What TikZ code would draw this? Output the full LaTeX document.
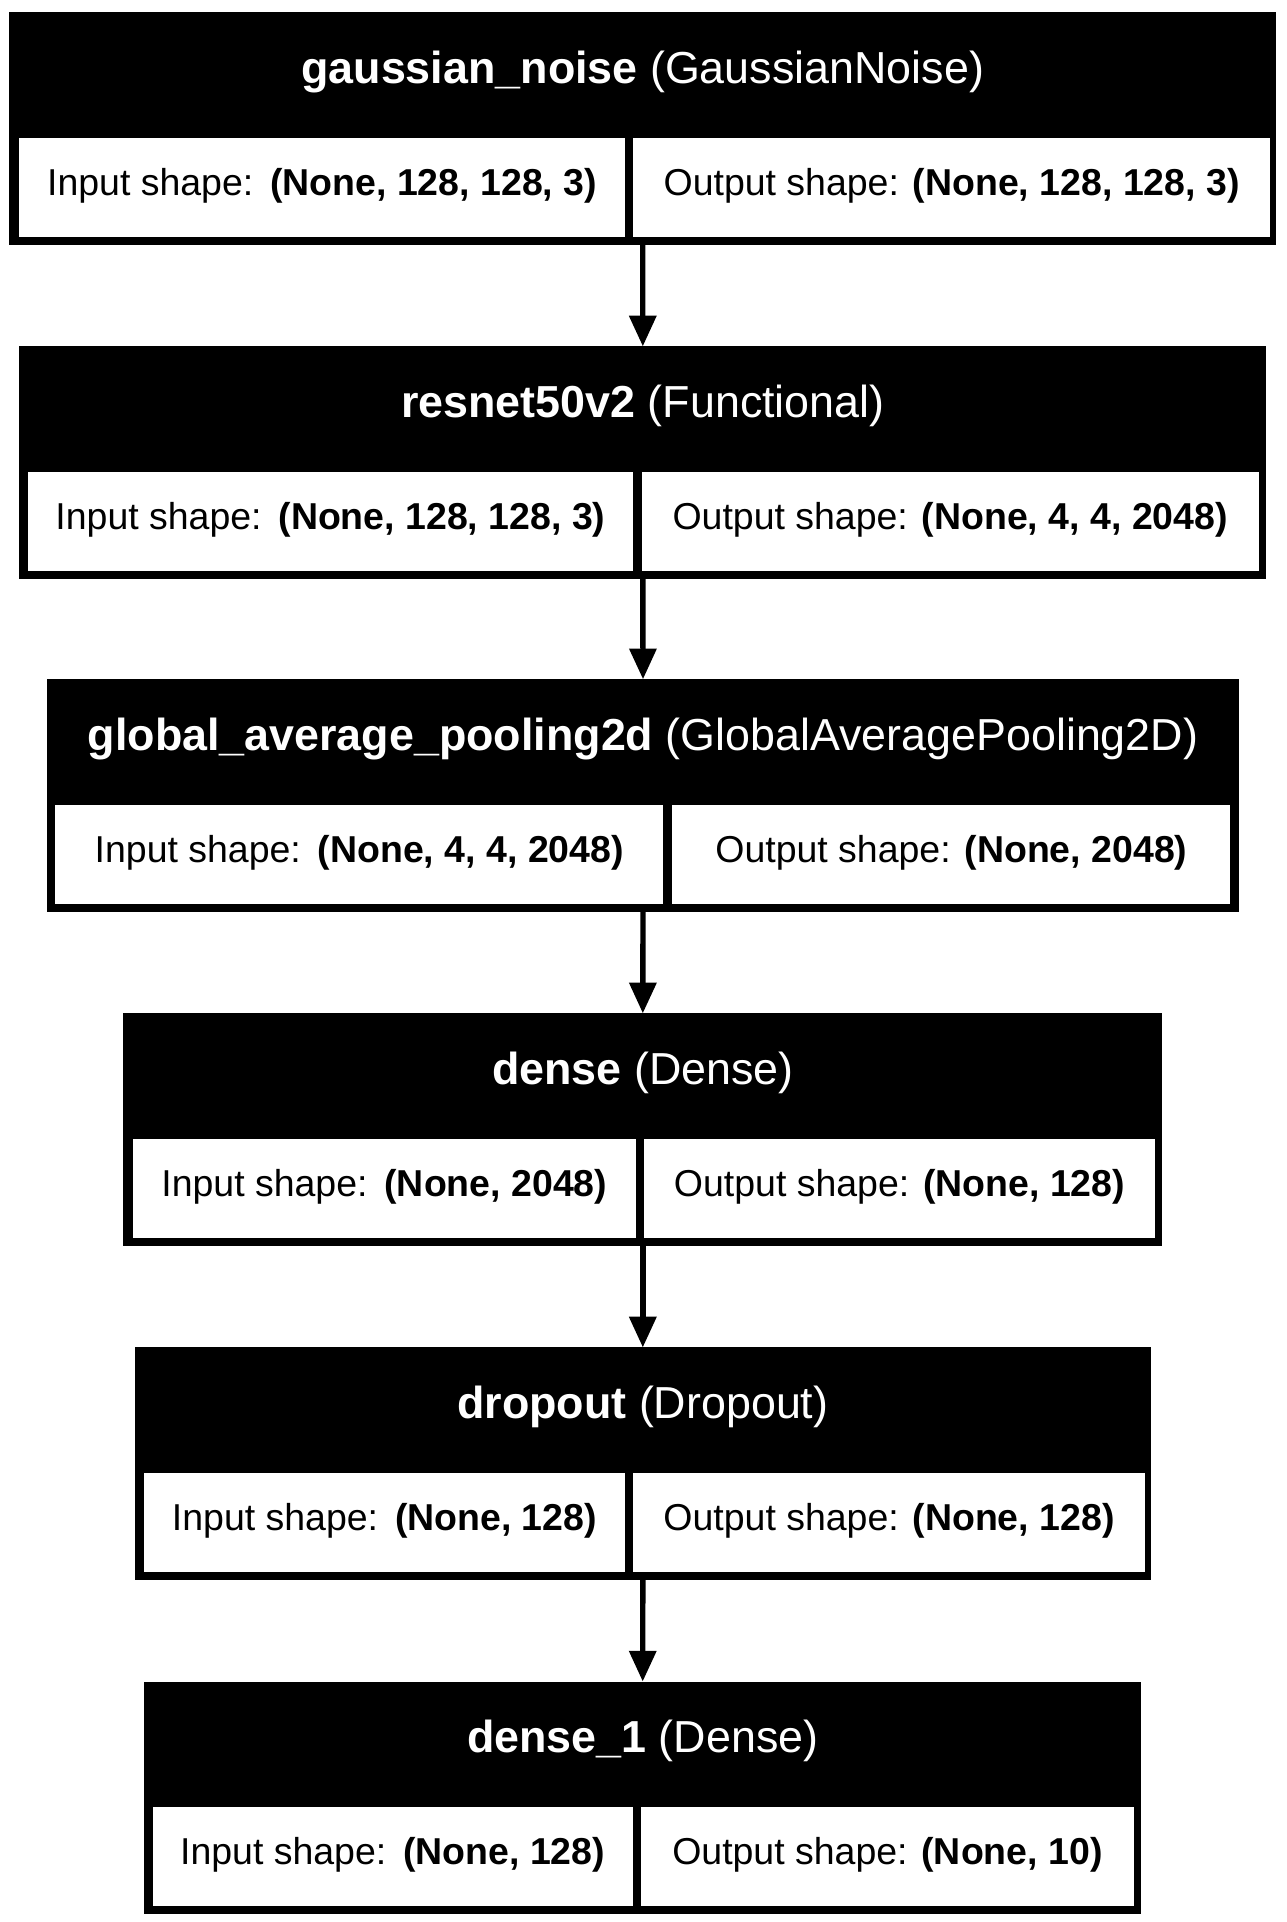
\documentclass[tikz,border=0pt]{standalone}
\usepackage{fontspec}
\setmainfont{Liberation Sans}
\usetikzlibrary{arrows.meta}
\tikzset{
  outerbox/.style={rectangle, fill=black, draw=none, inner sep=0pt, outer sep=0pt},
  cellbox/.style={rectangle, fill=white, draw=none, inner sep=0pt, outer sep=0pt},
  headtxt/.style={text=white, inner sep=0pt, anchor=base, font=\fontsize{36.5}{40}\selectfont},
  celltxt/.style={text=black, inner sep=0pt, anchor=base, font=\fontsize{30.5}{36}\selectfont},
  flow/.style={line width=4.4pt, -{Triangle[length=25pt, width=21.5pt]}},
}
% #1 id, #2 top, #3 left, #4 right, #5 cell left, #6 divider left, #7 divider right, #8 cell right, #9 header
\newcommand\LayerBox[9]{%
  \node[outerbox, minimum width={#4-#3}, minimum height=189.5] (box#1) at ({(#3+#4)/2},{#2+94.75}) {};
  \node[cellbox, minimum width={#6-#5}, minimum height=80.5] (inc#1) at ({(#5+#6)/2},{#2+142.5}) {};
  \node[cellbox, minimum width={#8-#7}, minimum height=80.5] (outc#1) at ({(#7+#8)/2},{#2+142.5}) {};
  \node[headtxt] (hd#1) at ({(#3+#4)/2},{#2+57.8}) {#9};
  \node[celltxt] (int#1) at ({(#5+#6)/2},{#2+148.8}) {Input shape:\hspace{0.08em} \textbf{\InShape}};
  \node[celltxt] (outt#1) at ({(#7+#8)/2},{#2+148.8}) {Output shape: \textbf{\OutShape}};
}
\begin{document}
\begin{tikzpicture}[x=1pt, y=-1pt]
  \useasboundingbox[fill=white] (0,0) rectangle (1047,1564.8);

  \def\InShape{(None, 128, 128, 3)}\def\OutShape{(None, 128, 128, 3)}
  \LayerBox{1}{10}{7.6}{1038.9}{15.7}{508.8}{515.6}{1034}{\textbf{gaussian\_noise} (GaussianNoise)}

  \def\InShape{(None, 128, 128, 3)}\def\OutShape{(None, 4, 4, 2048)}
  \LayerBox{2}{282}{15.7}{1031}{22.5}{515.6}{522.4}{1024.8}{\textbf{resnet50v2} (Functional)}

  \def\InShape{(None, 4, 4, 2048)}\def\OutShape{(None, 2048)}
  \LayerBox{3}{553}{38.5}{1008.5}{45}{540}{547.4}{1001.7}{\textbf{global\_average\_pooling2d} (GlobalAveragePooling2D)}

  \def\InShape{(None, 2048)}\def\OutShape{(None, 128)}
  \LayerBox{4}{825}{100.4}{946.3}{108}{517.8}{524.3}{940.4}{\textbf{dense} (Dense)}

  \def\InShape{(None, 128)}\def\OutShape{(None, 128)}
  \LayerBox{5}{1097}{109.7}{937}{117.2}{508.8}{515.6}{932}{\textbf{dropout} (Dropout)}

  \def\InShape{(None, 128)}\def\OutShape{(None, 10)}
  \LayerBox{6}{1369}{117.5}{929}{124.3}{515}{522}{923}{\textbf{dense\_1} (Dense)}

  \draw[flow] (box1.south) -- (box2.north);
  \draw[flow] (box2.south) -- (box3.north);
  \draw[flow] (box3.south) -- (box4.north);
  \draw[flow] (box4.south) -- (box5.north);
  \draw[flow] (box5.south) -- (box6.north);
\end{tikzpicture}
\end{document}
